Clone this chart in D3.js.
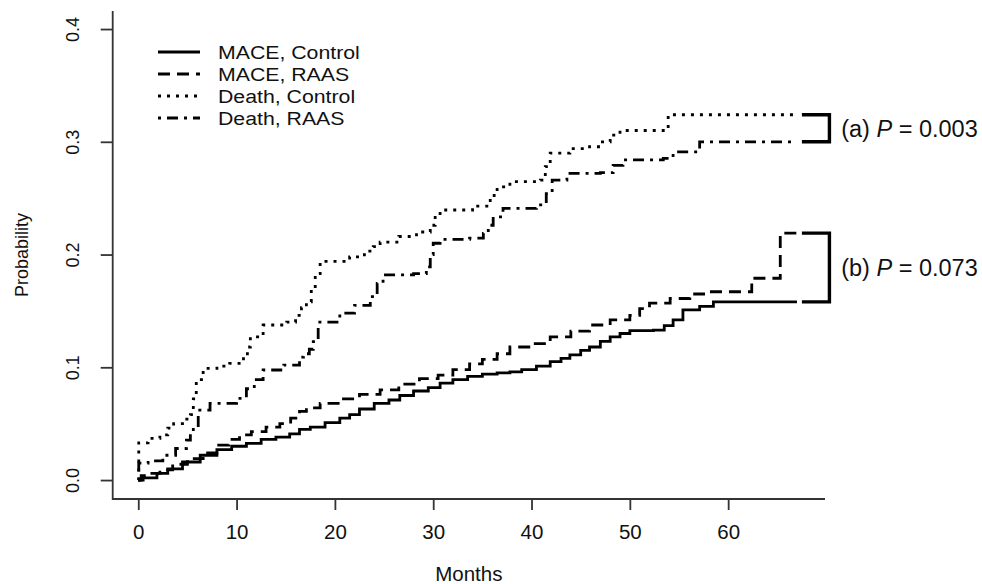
<!DOCTYPE html>
<html>
<head>
<meta charset="utf-8">
<script src="https://cdn.jsdelivr.net/npm/d3@7"></script>
<style>
  body { margin: 0; background: #fff; }
  svg text { font-family: "Liberation Sans", Arial, sans-serif; fill: #111; }
</style>
</head>
<body>
<svg id="chart" width="982" height="584"></svg>
<script>
// cumulative probability curves, [month, probability]
const maceControl = [[0,0],[0.5,0.002],[1.9,0.006],[3,0.010],[4.5,0.016],[6.3,0.022],[8,0.027],[9.5,0.030],[11,0.0325],[12.5,0.036],[14,0.038],[15.4,0.041],[16.4,0.045],[17.5,0.047],[19,0.051],[20.5,0.055],[21.5,0.058],[22.5,0.063],[24,0.068],[25.5,0.071],[26.6,0.075],[28,0.079],[29.5,0.082],[30.7,0.086],[32,0.089],[33.5,0.092],[35,0.094],[36.5,0.095],[37.8,0.096],[39,0.098],[40.5,0.101],[41.9,0.105],[43,0.108],[43.9,0.111],[45,0.115],[45.9,0.118],[47,0.123],[48,0.127],[49,0.130],[50,0.1325],[52.4,0.133],[53.5,0.137],[54.4,0.142],[55.4,0.151],[57.1,0.154],[58.5,0.158],[67,0.158]];

const maceRaas = [[0,0],[0.3,0.004],[1,0.006],[2.2,0.009],[3.5,0.014],[5,0.019],[6.6,0.024],[8,0.031],[9.2,0.036],[10.3,0.040],[11.5,0.043],[13,0.047],[14.4,0.050],[15.5,0.055],[16.4,0.061],[17.1,0.064],[18.5,0.068],[20.5,0.072],[22.5,0.076],[24.6,0.080],[26.5,0.085],[28.6,0.090],[30.5,0.093],[32,0.098],[33.7,0.103],[35,0.107],[36.5,0.112],[37.8,0.118],[40,0.121],[41.9,0.127],[44,0.132],[45.9,0.1375],[48,0.142],[50,0.146],[51,0.152],[52,0.157],[54.1,0.161],[56.1,0.165],[57.5,0.167],[62.4,0.179],[65.3,0.219],[67,0.219]];

const deathControl = [[0,0],[0.05,0.033],[1,0.037],[2.2,0.040],[3,0.046],[3.6,0.050],[4.5,0.054],[5.3,0.058],[5.6,0.072],[5.9,0.089],[6.6,0.099],[8,0.101],[9.3,0.1035],[10.7,0.109],[11.1,0.118],[11.4,0.127],[12.7,0.1375],[15.1,0.140],[16,0.146],[16.6,0.153],[17.1,0.158],[17.6,0.170],[18,0.183],[18.5,0.194],[21.5,0.198],[23,0.203],[23.9,0.207],[24.6,0.211],[26.5,0.216],[28.3,0.220],[29.7,0.226],[30.2,0.233],[30.7,0.2395],[34,0.243],[35.8,0.248],[36.2,0.254],[36.5,0.260],[37.8,0.2646],[40.9,0.266],[41.4,0.278],[41.9,0.290],[43.9,0.294],[45.9,0.2956],[47,0.300],[48,0.306],[49,0.310],[53.4,0.312],[53.9,0.324],[67,0.324]];

const deathRaas = [[0,0],[0.05,0.015],[1,0.017],[2.5,0.022],[3.8,0.028],[4.9,0.0355],[5.3,0.041],[5.6,0.047],[6.1,0.062],[7.3,0.068],[10,0.0725],[11,0.081],[11.8,0.089],[12.7,0.0976],[14.8,0.102],[16.4,0.109],[16.8,0.112],[17.4,0.116],[17.8,0.1227],[18.3,0.140],[20.5,0.148],[22,0.155],[23.6,0.1626],[24.3,0.1745],[24.9,0.182],[28,0.183],[29.3,0.189],[29.7,0.200],[30,0.210],[30.7,0.2135],[33.7,0.2145],[35.1,0.2188],[35.6,0.226],[36.1,0.2335],[37.1,0.241],[40.5,0.244],[41.5,0.254],[42.1,0.266],[43.6,0.272],[47,0.2726],[48.3,0.279],[49.3,0.284],[53.4,0.2853],[54.4,0.291],[56.5,0.291],[57.1,0.300],[67,0.300]];

const seriesNames = ["MACE, Control", "MACE, RAAS", "Death, Control", "Death, RAAS"];
const xTicks = [0, 10, 20, 30, 40, 50, 60];
const yTicks = [0, 0.1, 0.2, 0.3, 0.4];
const pLabels = ["(a) ", "(b) "];
const pValues = ["0.003", "0.073"];

const svg = d3.select("#chart");

const plotL = 112.7, plotR = 825, plotT = 11, plotB = 499;

const x = d3.scaleLinear().domain([-2.6, 69.85]).range([plotL, plotR]);
const y = d3.scaleLinear().domain([-0.0168, 0.416]).range([plotB, plotT]);

// R lty 1..4 scaled by lwd
const dashes = [null, "12,7", "3,6", "3,6,11,6"];
const series = [maceControl, maceRaas, deathControl, deathRaas];

// L-shaped box
svg.append("path")
    .attr("d", `M${plotL},${plotT}V${plotB}H${plotR}`)
    .attr("fill", "none")
    .attr("stroke", "#333")
    .attr("stroke-width", 1.8);

let gx = svg.append("g")
    .attr("transform", `translate(0,${plotB})`)
    .call(d3.axisBottom(x).tickValues(xTicks).tickSize(11).tickPadding(14).tickFormat(d3.format("d")));
gx.select(".domain").remove();
gx.selectAll(".tick line").attr("stroke", "#333").attr("stroke-width", 1.8);
gx.selectAll(".tick text").attr("font-size", 20.5).attr("font-family", null).attr("fill", "#111");

let gy = svg.append("g")
    .attr("transform", `translate(${plotL},0)`)
    .call(d3.axisLeft(y).tickValues(yTicks).tickSize(12).tickFormat(d3.format(".1f")));
gy.select(".domain").remove();
gy.selectAll(".tick line").attr("stroke", "#333").attr("stroke-width", 1.8);
gy.selectAll(".tick text")
    .attr("font-size", 18).attr("font-family", null).attr("fill", "#111")
    .attr("x", null)
    .attr("text-anchor", "middle")
    .attr("transform", "translate(-40,0) rotate(-90)")
    .attr("dy", "0.35em");

svg.append("text")
    .attr("x", (plotL + plotR) / 2).attr("y", 581)
    .attr("text-anchor", "middle").attr("font-size", 20.5)
    .text("Months");

svg.append("text")
    .attr("transform", `translate(22,${(plotT + plotB) / 2}) rotate(-90)`)
    .attr("dy", "0.35em")
    .attr("text-anchor", "middle").attr("font-size", 18)
    .text("Probability");

const line = d3.line()
    .x(d => x(d[0]))
    .y(d => y(d[1]))
    .curve(d3.curveStepAfter);

svg.append("g").selectAll("path")
  .data(series)
  .join("path")
    .attr("d", line)
    .attr("fill", "none")
    .attr("stroke", "#000")
    .attr("stroke-width", 2.8)
    .attr("stroke-dasharray", (d, i) => dashes[i]);

// legend (text slightly widened, the source figure is stretched sideways)
const leg = svg.append("g").selectAll("g")
  .data(seriesNames)
  .join("g")
    .attr("transform", (d, i) => `translate(158,${52 + i * 22})`);
leg.append("line")
    .attr("x1", 0).attr("x2", 42)
    .attr("stroke", "#000").attr("stroke-width", 2.8)
    .attr("stroke-dasharray", (d, i) => dashes[i]);
leg.append("text")
    .attr("transform", "translate(60,0) scale(1.12,1)")
    .attr("dy", "0.36em")
    .attr("font-size", 19)
    .text(d => d);

// brackets with p-values
const pairs = [[deathControl, deathRaas], [maceRaas, maceControl]];
const br = svg.append("g").selectAll("g")
  .data(pairs)
  .join("g");
br.append("path")
    .attr("d", d => {
      const y1 = y(d[0][d[0].length - 1][1]), y2 = y(d[1][d[1].length - 1][1]);
      return `M${x(67.5)},${y1}H${x(70.3)}V${y2}H${x(67.5)}`;
    })
    .attr("fill", "none")
    .attr("stroke", "#000")
    .attr("stroke-width", 3.4);
const pt = br.append("text")
    .attr("x", x(71.5))
    .attr("y", d => (y(d[0][d[0].length - 1][1]) + y(d[1][d[1].length - 1][1])) / 2)
    .attr("dy", "0.36em")
    .attr("font-size", 23.5);
pt.append("tspan").text((d, i) => pLabels[i]);
pt.append("tspan").attr("font-style", "italic").text("P");
pt.append("tspan").text((d, i) => " = " + pValues[i]);
</script>
</body>
</html>
